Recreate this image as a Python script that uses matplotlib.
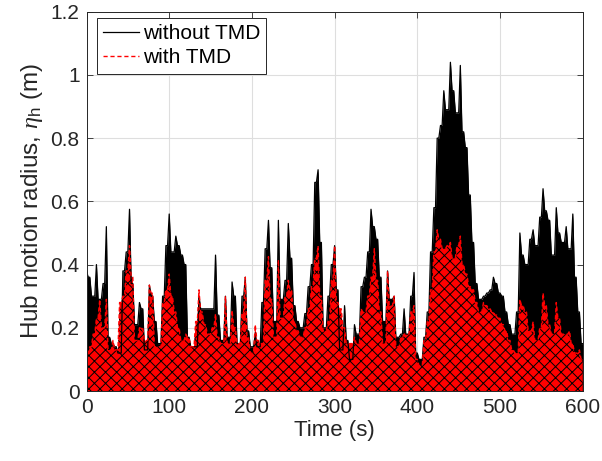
import numpy as np
import matplotlib
matplotlib.use("Agg")
import matplotlib.pyplot as plt

# sample grid (s): one reading of the oscillation envelope every 4 s
time_s = np.arange(0, 604, 4)

# envelope (peak) heights (m)
peak_without_tmd = [
    0.38, 0.36, 0.30, 0.40, 0.29, 0.34, 0.52, 0.17, 0.15, 0.14,   # 0-36
    0.12, 0.38, 0.44, 0.575, 0.34, 0.21, 0.28, 0.26, 0.13, 0.335,  # 40-76
    0.30, 0.22, 0.15, 0.30, 0.46, 0.56, 0.44, 0.49, 0.46, 0.43,   # 80-116
    0.40, 0.17, 0.14, 0.14, 0.30, 0.26, 0.26, 0.26, 0.26, 0.43,   # 120-156
    0.24, 0.16, 0.30, 0.17, 0.345, 0.30, 0.15, 0.30, 0.36, 0.19,  # 160-196
    0.14, 0.18, 0.14, 0.28, 0.45, 0.54, 0.39, 0.22, 0.54, 0.29,   # 200-236
    0.35, 0.53, 0.42, 0.27, 0.22, 0.20, 0.245, 0.33, 0.40, 0.66,  # 240-276
    0.70, 0.47, 0.20, 0.30, 0.40, 0.46, 0.32, 0.13, 0.27, 0.16,   # 280-316
    0.10, 0.21, 0.18, 0.33, 0.36, 0.44, 0.575, 0.52, 0.48, 0.36,  # 320-356
    0.22, 0.38, 0.29, 0.30, 0.17, 0.18, 0.26, 0.18, 0.30, 0.375,  # 360-396
    0.12, 0.10, 0.17, 0.25, 0.44, 0.58, 0.80, 0.84, 0.95, 0.89,   # 400-436
    1.04, 0.95, 0.88, 1.03, 0.82, 0.77, 0.62, 0.47, 0.34, 0.29,   # 440-476
    0.30, 0.31, 0.32, 0.36, 0.34, 0.31, 0.30, 0.25, 0.21, 0.18,   # 480-516
    0.25, 0.50, 0.43, 0.40, 0.48, 0.51, 0.46, 0.55, 0.64, 0.57,   # 520-556
    0.54, 0.43, 0.58, 0.50, 0.47, 0.52, 0.45, 0.56, 0.36, 0.25,   # 560-596
    0.15,                                                          # 600
]
peak_with_tmd = [
    0.12, 0.14, 0.18, 0.23, 0.29, 0.20, 0.29, 0.13, 0.16, 0.13,
    0.28, 0.30, 0.38, 0.46, 0.36, 0.16, 0.20, 0.20, 0.16, 0.335,
    0.31, 0.14, 0.14, 0.28, 0.32, 0.37, 0.30, 0.25, 0.20, 0.16,
    0.18, 0.17, 0.14, 0.22, 0.32, 0.25, 0.21, 0.18, 0.20, 0.245,
    0.17, 0.15, 0.30, 0.15, 0.256, 0.20, 0.15, 0.25, 0.36, 0.17,
    0.12, 0.21, 0.16, 0.15, 0.35, 0.425, 0.29, 0.17, 0.415, 0.23,
    0.30, 0.35, 0.32, 0.22, 0.19, 0.17, 0.20, 0.26, 0.33, 0.42,
    0.46, 0.30, 0.19, 0.22, 0.35, 0.46, 0.28, 0.26, 0.20, 0.15,
    0.15, 0.17, 0.15, 0.26, 0.25, 0.30, 0.36, 0.45, 0.35, 0.25,
    0.15, 0.38, 0.27, 0.30, 0.14, 0.17, 0.18, 0.18, 0.25, 0.27,
    0.10, 0.08, 0.16, 0.22, 0.32, 0.44, 0.51, 0.48, 0.45, 0.46,
    0.47, 0.42, 0.46, 0.49, 0.40, 0.37, 0.33, 0.32, 0.28, 0.25,
    0.28, 0.27, 0.26, 0.25, 0.24, 0.23, 0.21, 0.19, 0.16, 0.13,
    0.12, 0.29, 0.27, 0.25, 0.19, 0.22, 0.16, 0.20, 0.31, 0.27,
    0.21, 0.18, 0.28, 0.23, 0.18, 0.18, 0.19, 0.15, 0.12, 0.13,
    0.10,
]

x_ticks = [0, 100, 200, 300, 400, 500, 600]
y_ticks = [0, 0.2, 0.4, 0.6, 0.8, 1.0, 1.2]
y_tick_labels = ["0", "0.2", "0.4", "0.6", "0.8", "1", "1.2"]


def spiky(peaks):
    """Peaks joined through a notch at the lower neighbour between them."""
    peaks = np.asarray(peaks, dtype=float)
    t = np.empty(2 * len(time_s) - 1)
    v = np.empty_like(t)
    t[0::2] = time_s
    t[1::2] = time_s[:-1] + 2.0
    v[0::2] = peaks
    v[1::2] = np.minimum(peaks[:-1], peaks[1:])
    return t, v


plt.rcParams["font.family"] = ["Liberation Sans", "DejaVu Sans"]
plt.rcParams["mathtext.fontset"] = "custom"
plt.rcParams["mathtext.rm"] = "Liberation Sans"
plt.rcParams["mathtext.it"] = "Liberation Serif:italic"
plt.rcParams["hatch.linewidth"] = 0.7

AX_COLOR = "#262626"

fig = plt.figure(figsize=(6.02, 4.61), dpi=100)
ax = fig.add_axes([0.1437, 0.1518, 0.8243, 0.8228])

# the response oscillates faster than one pixel, so it shows up as a
# solid band under its envelope; red dashes over black give the speckle
t1, v1 = spiky(peak_without_tmd)
t2, v2 = spiky(peak_with_tmd)
ax.fill_between(t1, 0, v1, color="black", linewidth=0)
ax.plot(t1, v1, color="black", linewidth=0.9, label="without TMD")
ax.fill_between(t2, 0, v2, facecolor="red", edgecolor="black",
                hatch="xxx", linewidth=0)
ax.plot(t2, v2, color="red", linewidth=1.0, linestyle=(0, (3, 2)),
        label="with TMD")

ax.set_xlim(0, 600)
ax.set_ylim(0, 1.2)
ax.set_xticks(x_ticks)
ax.set_yticks(y_ticks)
ax.set_yticklabels(y_tick_labels)
ax.tick_params(direction="in", length=4, width=0.6, colors=AX_COLOR,
               labelsize=15, top=True, right=True, pad=5)
ax.grid(True, color="#dedede", linewidth=0.8)
ax.set_axisbelow(True)
for s in ax.spines.values():
    s.set_color(AX_COLOR)
    s.set_linewidth(0.7)

ax.set_xlabel("Time (s)", fontsize=16, color=AX_COLOR, labelpad=2)
ax.set_ylabel(r"Hub motion radius, $\eta_\mathrm{h}$ (m)", fontsize=17.5,
              color=AX_COLOR, labelpad=4)

leg = ax.legend(loc="upper left", bbox_to_anchor=(97 / 602, 1 - 18 / 461),
                bbox_transform=fig.transFigure, borderaxespad=0,
                fontsize=15, handlelength=1.7, handletextpad=0.2,
                borderpad=0.3, labelspacing=0.25, fancybox=False,
                framealpha=1, edgecolor=AX_COLOR)
leg.get_frame().set_linewidth(0.7)

fig.savefig("out.png", dpi=100)
